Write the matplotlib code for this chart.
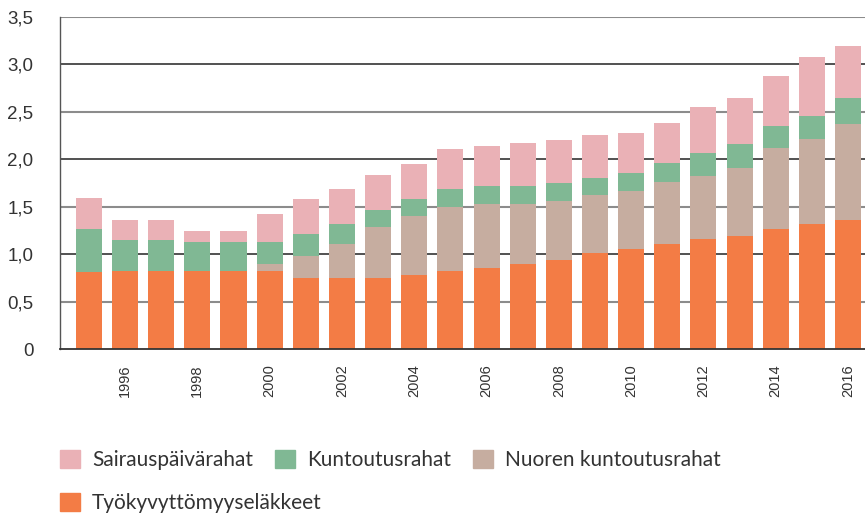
import numpy as np
import matplotlib.pyplot as plt
from matplotlib.patches import Patch

years = np.arange(1995, 2017)
tyokyvyttomyyselakkeet = [0.815, 0.82, 0.82, 0.82, 0.82, 0.82, 0.75, 0.75, 0.75, 0.78, 0.82,
                          0.855, 0.895, 0.94, 1.01, 1.055, 1.105, 1.16, 1.19, 1.265, 1.32, 1.36]
nuoren_kuntoutusrahat = [0, 0, 0, 0, 0, 0.075, 0.23, 0.36, 0.535, 0.62, 0.675,
                         0.675, 0.635, 0.62, 0.61, 0.61, 0.655, 0.665, 0.715, 0.855, 0.895, 1.01]
kuntoutusrahat = [0.45, 0.33, 0.33, 0.31, 0.31, 0.23, 0.23, 0.21, 0.18, 0.18, 0.19,
                  0.19, 0.19, 0.19, 0.18, 0.19, 0.2, 0.24, 0.26, 0.23, 0.24, 0.275]
sairauspaivarahat = [0.325, 0.21, 0.21, 0.115, 0.115, 0.295, 0.37, 0.37, 0.37, 0.37, 0.42,
                     0.42, 0.45, 0.455, 0.455, 0.42, 0.42, 0.485, 0.485, 0.525, 0.62, 0.55]

series = [
    ("Työkyvyttömyyseläkkeet", tyokyvyttomyyselakkeet, "#f37c45"),
    ("Nuoren kuntoutusrahat", nuoren_kuntoutusrahat, "#c6ada0"),
    ("Kuntoutusrahat", kuntoutusrahat, "#80b894"),
    ("Sairauspäivärahat", sairauspaivarahat, "#eab1b6"),
]
colors = {name: c for name, _, c in series}

fig = plt.figure(figsize=(8.65, 5.15), dpi=100)
ax = fig.add_axes([60 / 865, 166 / 515, 805 / 865, 332 / 515])

bottom = np.zeros(len(years))
for name, vals, color in series:
    ax.bar(years, vals, width=0.72, bottom=bottom, color=color, zorder=2, label=name)
    bottom += np.array(vals)

yticks = np.arange(0, 3.51, 0.5)
for i, v in enumerate(yticks):
    if v == 0:
        continue
    if i % 2 == 0:
        ax.axhline(v, color="#222222", lw=1.1, zorder=0)
    else:
        ax.axhline(v, color="#8c8c8c", lw=1.5, zorder=0)

ax.set_ylim(0, 3.5)
ax.set_xlim(1994.2, 2016.47)
ax.set_yticks(yticks)
ax.set_yticklabels(["0"] + [f"{v:.1f}".replace(".", ",") for v in yticks[1:]],
                   fontsize=13.5, fontfamily="Liberation Sans", color="#333333")
ax.set_xticks(years[1::2])
ax.set_xticklabels([str(y) for y in years[1::2]], rotation=90, fontsize=10.5,
                   fontfamily="Liberation Sans", color="#333333", va="top")
ax.tick_params(axis="y", length=0, pad=19)
ax.tick_params(axis="x", length=0, pad=11)

for s in ["top", "right"]:
    ax.spines[s].set_visible(False)
ax.spines["left"].set_color("#555555")
ax.spines["left"].set_linewidth(1.0)
ax.spines["bottom"].set_color("#333333")
ax.spines["bottom"].set_linewidth(1.3)

leg_kw = dict(frameon=False, handlelength=0.96, handleheight=0.96,
              handletextpad=0.58, borderpad=0, borderaxespad=0, columnspacing=1.05,
              prop={"family": "Lato", "size": 15})
row1 = ["Sairauspäivärahat", "Kuntoutusrahat", "Nuoren kuntoutusrahat"]
leg1 = fig.legend([Patch(color=colors[n]) for n in row1], row1, ncol=3,
                  loc="center left", bbox_to_anchor=(60 / 865, 1 - 460 / 515), **leg_kw)
for t in leg1.get_texts():
    t.set_color("#333333")
leg2 = fig.legend([Patch(color=colors["Työkyvyttömyyseläkkeet"])], ["Työkyvyttömyyseläkkeet"],
                  loc="center left", bbox_to_anchor=(60 / 865, 1 - 503 / 515), **leg_kw)
for t in leg2.get_texts():
    t.set_color("#333333")

fig.savefig("out.png", dpi=100)
